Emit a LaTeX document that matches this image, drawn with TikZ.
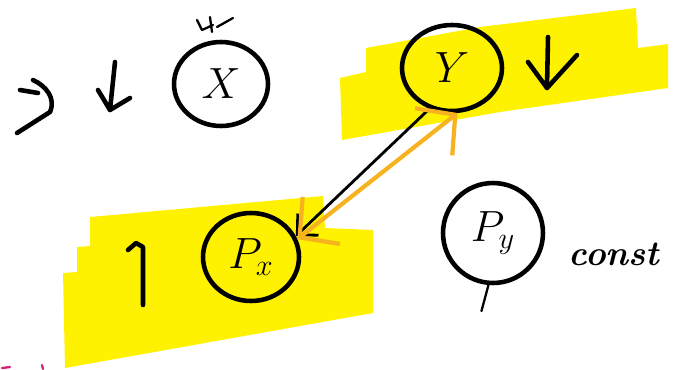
\documentclass[tikz,border=0pt]{standalone}
\usepackage{amsmath}
\definecolor{hlyellow}{RGB}{255,242,0}
\definecolor{penorange}{RGB}{247,178,32}
\definecolor{penpink}{RGB}{214,30,120}
\usetikzlibrary{arrows.meta,shapes.geometric}

\begin{document}
\begin{tikzpicture}[x=0.02cm, y=-0.02cm,
    var/.style={ellipse, draw, line width=2.6pt, inner sep=0pt,
                font=\fontsize{26}{30}\selectfont},
    pen/.style={line width=2.6pt, line cap=round, line join=round},
    thinpen/.style={line width=1.3pt, line cap=round, line join=round},
    highlight/.style={fill=hlyellow, draw=none},
    bigbarb/.tip={Straight Barb[length=5.5mm,width=12mm]}
  ]
    \useasboundingbox (0,0) rectangle (673,369);

    % Highlights
    \fill[highlight] (340,78) -- (366,72) -- (366,48) -- (480,27) -- (636,8)
      -- (638,48) -- (668,44) -- (668,88) -- (500,112) -- (342,140) -- cycle;
    \fill[highlight] (90,217) -- (323,196) -- (325,228) -- (373,230)
      -- (373,313) -- (65,368) -- (63,273) -- (77,272) -- (77,247)
      -- (90,246) -- cycle;

    % Variables
    \node[var, minimum width=1.88cm, minimum height=1.68cm] (x) at (221,84) {$X$};
    \node[var, minimum width=2cm, minimum height=1.72cm] (y) at (452,68) {$Y$};
    \node[var, minimum width=1.92cm, minimum height=1.76cm] (px) at (251,257) {$P_x$};
    \node[var, minimum width=2cm, minimum height=2cm] (py) at (493,233) {$P_y$};
    \node[font=\fontsize{20}{24}\selectfont\bfseries\itshape, anchor=west,
          inner sep=0pt] (constlbl) at (568,254) {const};

    % Marks round the top row
    \draw[pen] (17,133) -- (50,112) .. controls (56,98) and (46,86) .. (33,80);
    \draw[pen] (20,90) -- (38,93);
    \draw[pen] (115,62) -- (110,110) -- (98,90);
    \draw[pen] (110,110) -- (130,98);
    \draw[thinpen] (197,20) -- (202,30) -- (213,25);
    \draw[thinpen] (210,17) -- (212,32);
    \draw[thinpen] (217,27) -- (233,18);
    \draw[pen] (548,37) -- (547,88) -- (528,62);
    \draw[pen] (547,88) -- (577,55);

    % Mark beside Px
    \draw[pen] (143,305) -- (143,247) -- (136,243) -- (128,250);
    \draw[thinpen] (py.-95) -- ++(-7,26);

    % Link between Y and Px
    \draw[pen, line width=1.6pt, -{Straight Barb[length=3mm,width=6mm]}]
      (y.-119) -- (px.25);
    \draw[pen, penorange, line width=2.4pt, bigbarb-bigbarb] (y.-83) -- (px.21);

    % Cut-off strokes at the bottom
    \draw[thinpen, penpink] (2,368) -- (10,367);
    \draw[thinpen, penpink] (42,365) -- (43,369);
  \end{tikzpicture}
\end{document}
